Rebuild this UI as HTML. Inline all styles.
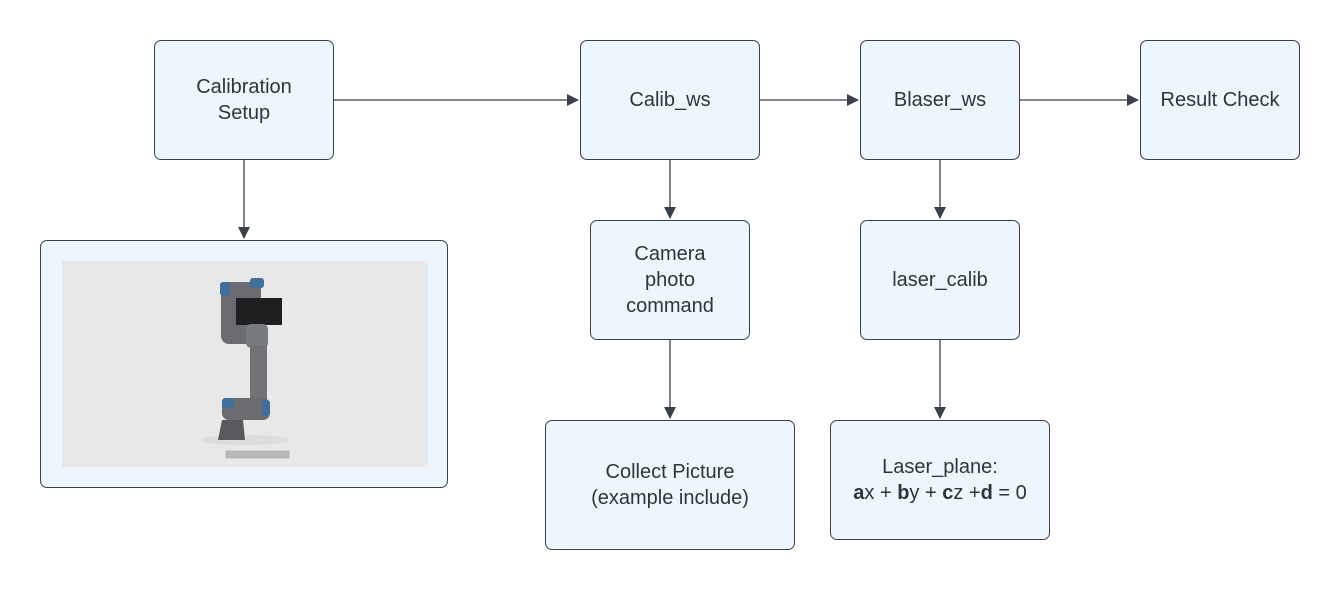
<!DOCTYPE html>
<html><head><style>
body{margin:0;width:1340px;height:591px;background:#fff;position:relative;font-family:"Liberation Sans",sans-serif;overflow:hidden}
.b{position:absolute;box-sizing:border-box;border:1.5px solid #3a414a;border-radius:7px;background:#edf5ff;display:flex;align-items:center;justify-content:center;text-align:center;font-size:20px;line-height:26px;color:#2e343c}
svg{position:absolute;left:0;top:0}
</style></head><body>
<div class="b" style="left:154px;top:40px;width:180px;height:120px"><div>Calibration<br>Setup</div></div>
<div class="b" style="left:580px;top:40px;width:180px;height:120px"><div>Calib_ws</div></div>
<div class="b" style="left:860px;top:40px;width:160px;height:120px"><div>Blaser_ws</div></div>
<div class="b" style="left:1140px;top:40px;width:160px;height:120px"><div>Result Check</div></div>
<div class="b" style="left:590px;top:220px;width:160px;height:120px"><div>Camera<br>photo<br>command</div></div>
<div class="b" style="left:860px;top:220px;width:160px;height:120px"><div>laser_calib</div></div>
<div class="b" style="left:545px;top:420px;width:250px;height:130px"><div>Collect Picture<br>(example include)</div></div>
<div class="b" style="left:830px;top:420px;width:220px;height:120px"><div>Laser_plane:<br><b>a</b>x + <b>b</b>y + <b>c</b>z +<b>d</b> = 0</div></div>
<div class="b" style="left:40px;top:240px;width:408px;height:248px"></div>
<svg width="1340" height="591">
<defs><marker id="a" markerWidth="12" markerHeight="12" refX="11" refY="6" orient="auto" markerUnits="userSpaceOnUse"><path d="M0,0 L12,6 L0,12 z" fill="#3a414a"/></marker></defs>
<g stroke="#3a414a" stroke-width="1.3" fill="none">
<line x1="334" y1="100" x2="578" y2="100" marker-end="url(#a)"/>
<line x1="760" y1="100" x2="858" y2="100" marker-end="url(#a)"/>
<line x1="1020" y1="100" x2="1138" y2="100" marker-end="url(#a)"/>
<line x1="244" y1="160" x2="244" y2="238" marker-end="url(#a)"/>
<line x1="670" y1="160" x2="670" y2="218" marker-end="url(#a)"/>
<line x1="940" y1="160" x2="940" y2="218" marker-end="url(#a)"/>
<line x1="670" y1="340" x2="670" y2="418" marker-end="url(#a)"/>
<line x1="940" y1="340" x2="940" y2="418" marker-end="url(#a)"/>
</g>
<rect x="62" y="261" width="366" height="206" fill="#e8e8e8"/>
<ellipse cx="245" cy="440" rx="45" ry="5" fill="#dcdcdc"/>
<rect x="221" y="282" width="40" height="62" rx="8" fill="#6a6c70"/>
<rect x="220" y="282" width="10" height="14" rx="3" fill="#3f6f9a"/>
<rect x="250" y="278" width="14" height="10" rx="3" fill="#3f6f9a"/>
<rect x="236" y="298" width="46" height="27" fill="#1e1f21"/>
<rect x="246" y="324" width="22" height="24" rx="5" fill="#777a7e"/>
<rect x="250" y="345" width="17" height="54" fill="#707276"/>
<rect x="222" y="398" width="48" height="22" rx="7" fill="#6a6c70"/>
<rect x="222" y="398" width="12" height="10" rx="3" fill="#3f6f9a"/>
<rect x="262" y="400" width="8" height="16" rx="3" fill="#3f6f9a"/>
<path d="M222,420 L243,420 L245,440 L218,440 Z" fill="#58595c"/>
<rect x="226" y="451" width="63" height="7" fill="#b8b8b8" stroke="#999" stroke-width="0.5"/>
</svg>
</body></html>
